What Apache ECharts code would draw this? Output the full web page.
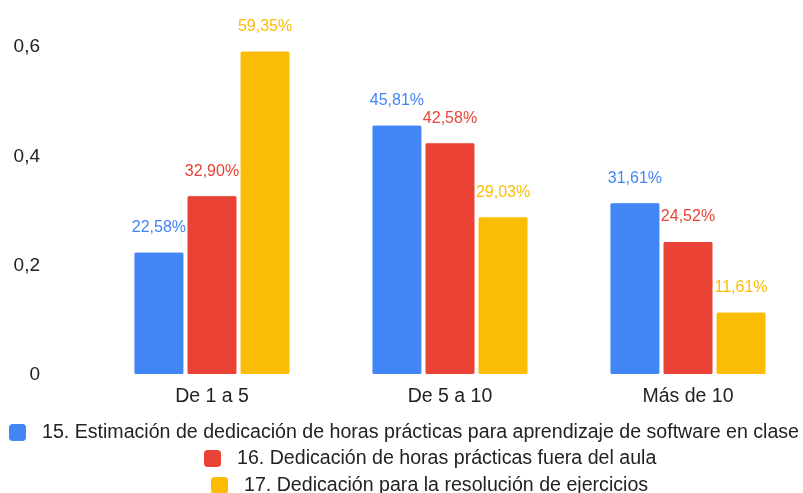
<!DOCTYPE html>
<html><head><meta charset="utf-8">
<script src="https://cdn.jsdelivr.net/npm/echarts@6/dist/echarts.min.js"></script>
<style>html,body{margin:0;padding:0;background:#fff;overflow:hidden}#c{width:807px;height:493px}</style>
</head><body><div id="c"></div>
<script>
var categories = ['De 1 a 5', 'De 5 a 10', 'Más de 10'];
var seriesNames = [
  '15. Estimación de dedicación de horas prácticas para aprendizaje de software en clase',
  '16. Dedicación de horas prácticas fuera del aula',
  '17. Dedicación para la resolución de ejercicios'
];
var s15 = [0.2258, 0.4581, 0.3161];
var s16 = [0.3290, 0.4258, 0.2452];
var s17 = [0.5935, 0.2903, 0.1161];
var colors = ['#4285F4', '#EA4335', '#FBBC04'];
var yTicks = { min: 0, max: 0.6, interval: 0.2 };

var FONT = '"Liberation Sans", Arial, sans-serif';
function pct(v){ return (v*100).toFixed(2).replace('.', ',') + '%'; }
function mk(name, data, color){
  return {
    name: name, type: 'bar', data: data, barWidth: 51, barGap: '4%',
    itemStyle: { color: color, borderColor: '#fff', borderWidth: 1, borderRadius: 2 },
    label: { show: true, position: 'top', distance: 16, color: color, fontFamily: FONT, fontSize: 16,
      textBorderColor: '#fff', textBorderWidth: 3,
      formatter: function(p){ return pct(p.value); } }
  };
}
var chart = echarts.init(document.getElementById('c'));
function lg(name, left, top){
  return { data: [name], left: left, top: top, itemWidth: 19, itemHeight: 19, padding: 0,
    icon: 'roundRect', textStyle: { fontFamily: FONT, fontSize: 19.6, color: '#222', padding: [0,0,0,10] } };
}
chart.setOption({
  animation: false,
  color: colors,
  grid: { left: 93, top: 47, right: 0, height: 328, containLabel: false },
  xAxis: { type: 'category', data: categories,
    axisLine: { show: false }, axisTick: { show: false },
    axisLabel: { margin: 12, fontFamily: FONT, fontSize: 19.5, color: '#222' } },
  yAxis: { type: 'value', min: yTicks.min, max: yTicks.max, interval: yTicks.interval,
    splitLine: { show: false }, axisLine: { show: false }, axisTick: { show: false },
    axisLabel: { margin: 53, fontFamily: FONT, fontSize: 19, color: '#222',
      formatter: function(v){ return v === 0 ? '0' : v.toFixed(1).replace('.', ','); } } },
  legend: [lg(seriesNames[0], 7, 422), lg(seriesNames[1], 202, 448), lg(seriesNames[2], 209, 475)],
  series: [mk(seriesNames[0], s15, colors[0]), mk(seriesNames[1], s16, colors[1]), mk(seriesNames[2], s17, colors[2])]
});
</script></body></html>
